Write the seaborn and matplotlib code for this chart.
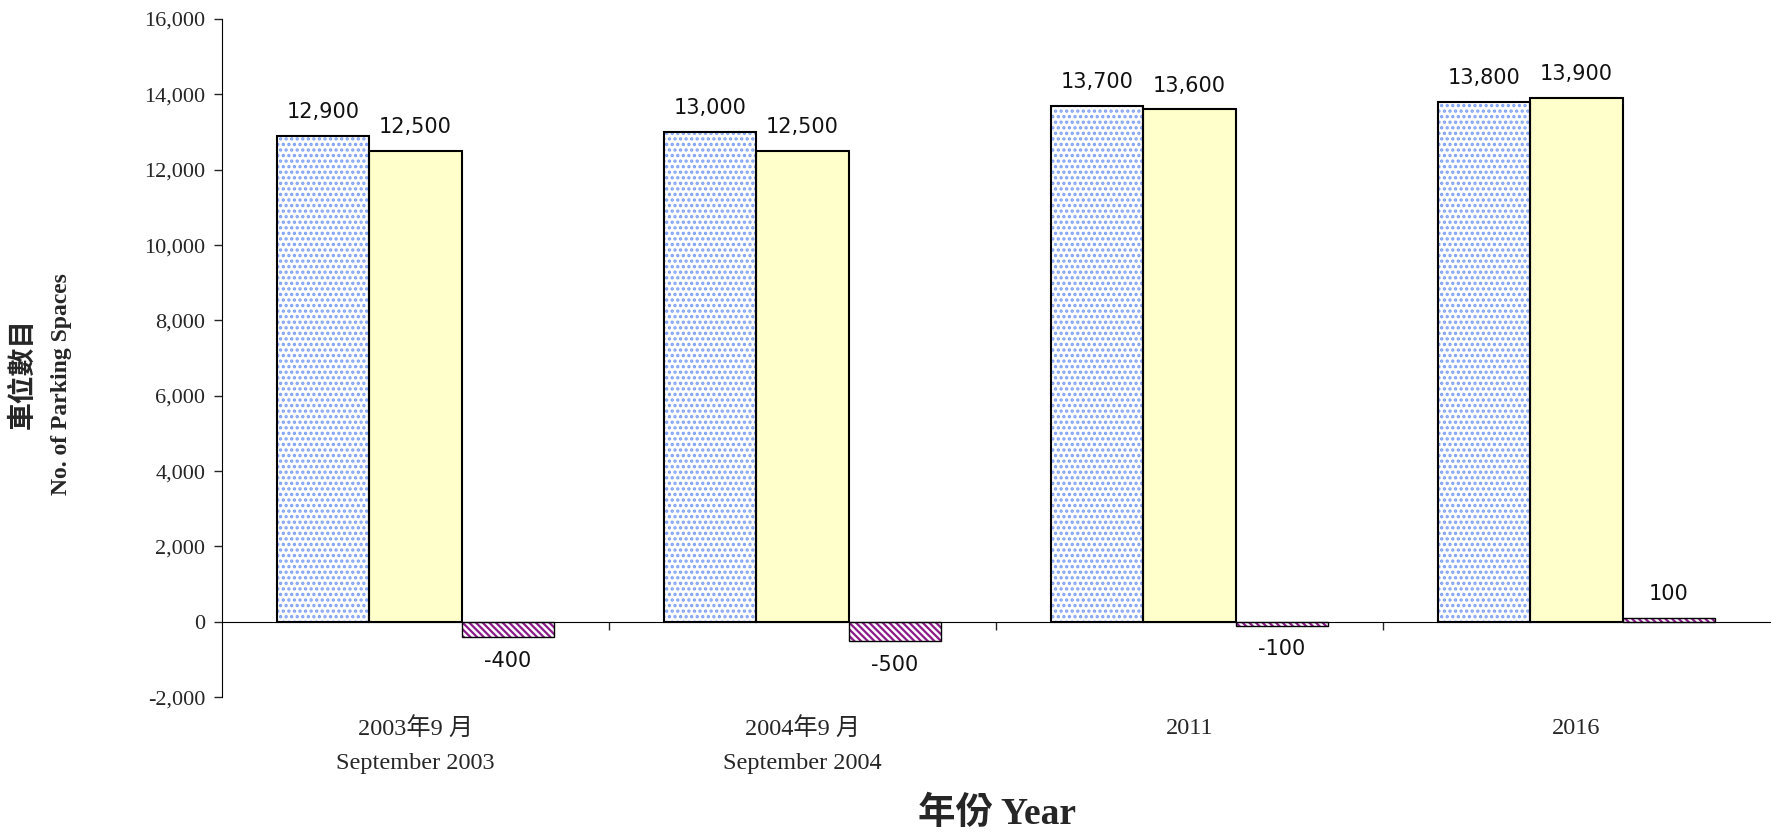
import pandas as pd
import matplotlib
matplotlib.use('Agg')
import matplotlib.pyplot as plt
import seaborn as sns
from matplotlib.patches import Rectangle
from matplotlib.ticker import FuncFormatter, FixedLocator


# chart values
categories = ['2003年9 月\nSeptember 2003', '2004年9 月\nSeptember 2004', '2011', '2016']
series_names = ['A', 'B', 'Diff']
series_a = [12900, 13000, 13700, 13800]
series_b = [12500, 12500, 13600, 13900]
series_diff = [-400, -500, -100, 100]
y_ticks = [-2000, 0, 2000, 4000, 6000, 8000, 10000, 12000, 14000, 16000]

df = pd.DataFrame({
    'cat': categories * 3,
    'series': [s for s in series_names for _ in categories],
    'value': series_a + series_b + series_diff,
})

sns.set_style('white')
plt.rcParams['font.family'] = ['Liberation Serif', 'Noto Sans CJK TC', 'DejaVu Sans']
plt.rcParams['hatch.linewidth'] = 1.6

fig = plt.figure(figsize=(17.71, 8.4), dpi=100)
ax = fig.add_axes([0.1254, 0.170, 0.8740, 0.8074])

sns.barplot(data=df, x='cat', y='value', hue='series', order=categories,
            hue_order=series_names, width=0.717, legend=False, ax=ax,
            palette=['white', '#FFFFCC', 'white'], saturation=1,
            edgecolor='black', linewidth=1.5)

# hatching: blue dots, purple diagonal stripes
styles = [('...', '#7FA0F5'), (None, None), ('\\\\\\\\\\', '#8B1A8B')]
for cont, (hatch, hcol) in zip(ax.containers, styles):
    for p in cont.patches:
        if hatch is None:
            continue
        x0, y0 = p.get_xy()
        w, h = p.get_width(), p.get_height()
        p.set_hatch(hatch)
        p.set_edgecolor(hcol)
        p.set_linewidth(0)
        ax.add_patch(Rectangle((x0, y0), w, h, fill=False, edgecolor='black',
                               linewidth=1.5 if hatch == '...' else 1.0, zorder=p.get_zorder() + 0.1))

for cont, vals in zip(ax.containers, [series_a, series_b, series_diff]):
    ax.bar_label(cont, labels=[f'{v:,}' for v in vals], padding=10,
                 fontsize=15, family='DejaVu Sans', color='#111111')

ax.set_ylim(-2000, 16000)
ax.set_xlim(-0.5, 3.5)
ax.yaxis.set_major_locator(FixedLocator(y_ticks))
ax.yaxis.set_major_formatter(FuncFormatter(lambda v, _: f'{int(v):,}'))
ax.tick_params(axis='y', direction='out', length=6, width=1, left=True,
               labelsize=16, pad=6)

ax.spines['top'].set_visible(False)
ax.spines['right'].set_visible(False)
ax.spines['left'].set_color('black')
ax.spines['bottom'].set_color('black')
ax.spines['bottom'].set_position(('data', 0))

ax.xaxis.set_minor_locator(FixedLocator([0.5, 1.5, 2.5]))
ax.tick_params(axis='x', which='minor', direction='out', length=6, width=1, bottom=True)
ax.tick_params(axis='x', which='major', length=0, labelsize=17.5, pad=69)
for t in ax.get_xticklabels():
    t.set_linespacing(1.75)

ax.set_xlabel('')
ax.set_ylabel('')

fig.text(0.5627, 0.031, '年份 Year', ha='center', va='center', fontsize=27, fontweight='bold')
fig.text(0.0135, 0.555, '車位數目', rotation=90, ha='center', va='center', fontsize=20, fontweight='bold')
fig.text(0.0345, 0.543, 'No. of Parking Spaces', rotation=90, ha='center', va='center',
         fontsize=17, fontweight='bold')

fig.savefig('out.png', dpi=100, facecolor='white')
